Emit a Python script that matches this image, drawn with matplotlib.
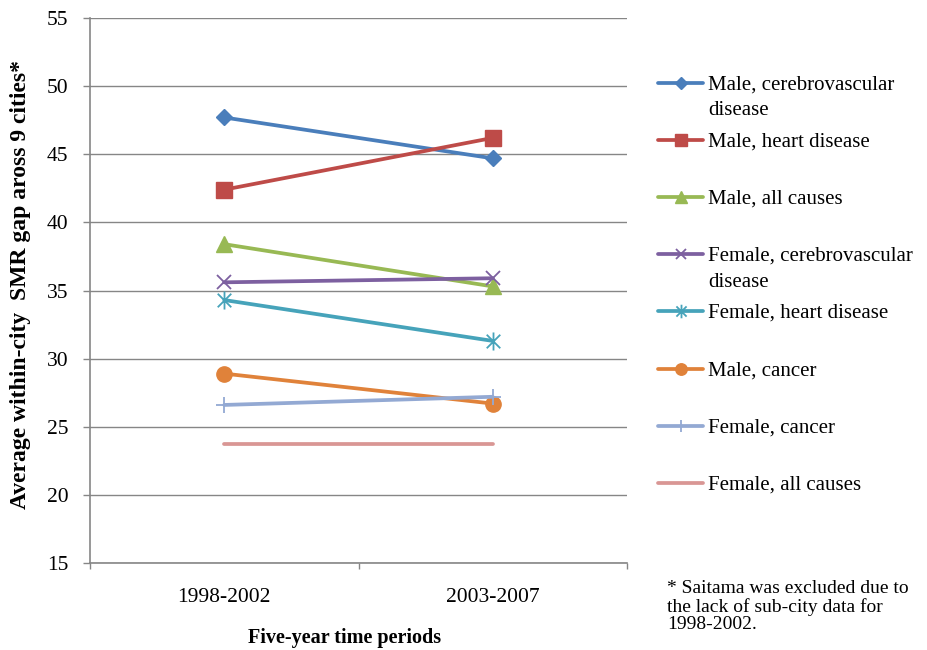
import matplotlib
matplotlib.use("Agg")
import matplotlib.pyplot as plt
from matplotlib.lines import Line2D
from matplotlib.path import Path

plt.rcParams['font.family'] = ['Liberation Serif', 'DejaVu Serif']

# ---- data -------------------------------------------------------------
periods = ['1998-2002', '2003-2007']
male_cerebrovascular = [47.7, 44.7]
male_heart = [42.4, 46.2]
male_all_causes = [38.4, 35.3]
female_cerebrovascular = [35.6, 35.9]
female_heart = [34.3, 31.3]
male_cancer = [28.9, 26.7]
female_cancer = [26.6, 27.2]
female_all_causes = [23.7, 23.7]

labels = [
    'Male, cerebrovascular\ndisease',
    'Male, heart disease',
    'Male, all causes',
    'Female, cerebrovascular\ndisease',
    'Female, heart disease',
    'Male, cancer',
    'Female, cancer',
    'Female, all causes',
]
series = [male_cerebrovascular, male_heart, male_all_causes,
          female_cerebrovascular, female_heart, male_cancer,
          female_cancer, female_all_causes]

# asterisk marker: an x crossed by a vertical stroke
asterisk = Path([(-0.45, -0.45), (0.45, 0.45), (-0.45, 0.45), (0.45, -0.45),
                 (0.0, -0.6), (0.0, 0.6)],
                [Path.MOVETO, Path.LINETO, Path.MOVETO, Path.LINETO,
                 Path.MOVETO, Path.LINETO])

styles = [
    dict(color='#4A7EBB', marker='D', ms=7.8),
    dict(color='#BE4B48', marker='s', ms=11),
    dict(color='#98B954', marker='^', ms=11),
    dict(color='#7D60A0', marker='x', ms=10, mew=1.3),
    dict(color='#46A3BA', marker=asterisk, ms=13, mew=1.3),
    dict(color='#E0823A', marker='o', ms=11),
    dict(color='#93A9D3', marker='+', ms=11, mew=1.3),
    dict(color='#D99694', marker='None', ms=0),
]

W, H = 927, 650
fig = plt.figure(figsize=(W / 100, H / 100), dpi=100)
ax = fig.add_axes([90 / W, 1 - 563 / H, (627 - 90) / W, (563 - 18) / H])

x = list(range(1, len(periods) + 1))
for vals, st in zip(series, styles):
    ax.plot(x, vals, color=st['color'], lw=2.7, marker=st['marker'],
            ms=st['ms'], mew=st.get('mew', 1.0), mec=st['color'],
            mfc=st['color'], solid_capstyle='round', zorder=3)

grid_c = '#868686'
ax.set_ylim(15, 55)
ax.set_yticks(range(15, 56, 5))
ax.set_xlim(0.5, len(periods) + 0.5)
ax.set_xticks([i + 0.5 for i in range(len(periods) + 1)])
ax.set_xticklabels([])
ax.set_xticks(x, minor=True)
ax.set_xticklabels(periods, minor=True, fontsize=15.5)
ax.tick_params(axis='x', which='minor', length=0, pad=18)
ax.tick_params(axis='x', which='major', length=4, color=grid_c, width=1)
ax.tick_params(axis='y', length=5, color=grid_c, width=1, labelsize=15.5,
               pad=10.5)
ax.yaxis.grid(True, color=grid_c, lw=1)
ax.set_axisbelow(True)
for s in ('top', 'right'):
    ax.spines[s].set_visible(False)
for s in ('left', 'bottom'):
    ax.spines[s].set_color(grid_c)
    ax.spines[s].set_linewidth(1.2)


def fx(px):
    return px / W


def fy(py):
    return 1 - py / H


# axis titles
fig.text(fx(21), fy(284), 'Average within-city  SMR gap aross 9 cities*',
         rotation=90, ha='center', va='center', fontsize=17,
         fontweight='bold')
fig.text(fx(345), fy(638), 'Five-year time periods', ha='center',
         va='center', fontsize=14.5, fontweight='bold')

# ---- legend ------------------------------------------------------------
row0, step = 82.5, 57.2
for i, (lab, st) in enumerate(zip(labels, styles)):
    yy = row0 + i * step
    fig.add_artist(Line2D([fx(658), fx(703)], [fy(yy), fy(yy)],
                          transform=fig.transFigure, color=st['color'],
                          lw=2.7, solid_capstyle='round'))
    if st['ms']:
        fig.add_artist(Line2D([fx(680.5)], [fy(yy)], transform=fig.transFigure,
                              color=st['color'], marker=st['marker'],
                              ms=st['ms'] * 0.75, mew=st.get('mew', 1.0),
                              mec=st['color'], mfc=st['color'], ls='None'))
    fig.text(fx(708), fy(yy - 7.4), lab, fontsize=15, va='top',
             ha='left', linespacing=1.5)

fig.text(fx(667), fy(580),
         '* Saitama was excluded due to\nthe lack of sub-city data for\n1998-2002.',
         fontsize=14, va='top', ha='left', linespacing=1.05)

fig.savefig('out.png', dpi=100)
